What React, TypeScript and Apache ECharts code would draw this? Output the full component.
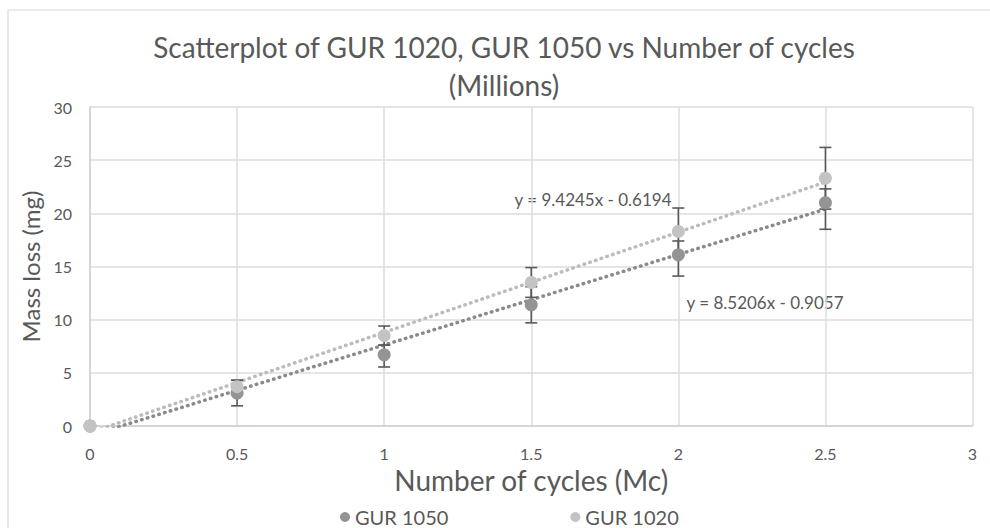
import React, { useEffect, useRef } from "react";
import * as echarts from "echarts";

const cycles = [0, 0.5, 1, 1.5, 2, 2.5];
const gur1050 = [0, 3.1, 6.7, 11.4, 16.1, 21.0];
const gur1020 = [0, 3.7, 8.5, 13.5, 18.3, 23.3];
const err1050Plus = [0, 1.2, 0.9, 1.7, 1.3, 1.3];
const err1050Minus = [0, 1.2, 1.15, 1.7, 2.0, 2.5];
const err1020Plus = [0, 0.6, 0.9, 1.4, 2.2, 2.9];
const err1020Minus = [0, 0.6, 0.9, 1.4, 2.2, 2.9];
const trend1050 = { slope: 8.5206, intercept: -0.9057 };
const trend1020 = { slope: 9.4245, intercept: -0.6194 };
const xTicks = [0, 0.5, 1, 1.5, 2, 2.5, 3];
const yTicks = [0, 5, 10, 15, 20, 25, 30];

const FONT = "Lato, 'Open Sans', sans-serif";
const TXT = "#595959";
const C1050 = "#949494";
const C1020 = "#c3c3c3";

function trendData(t: { slope: number; intercept: number }) {
  const x0 = cycles[0];
  const x1 = cycles[cycles.length - 1];
  return [
    [x0, t.slope * x0 + t.intercept],
    [x1, t.slope * x1 + t.intercept],
  ];
}

function errData(vals: number[], plus: number[], minus: number[]) {
  return cycles.map((c, i) => [c, vals[i] - minus[i], vals[i] + plus[i]]);
}

function renderErr(params: any, api: any) {
  const x = api.value(0);
  const lo = api.coord([x, api.value(1)]);
  const hi = api.coord([x, api.value(2)]);
  const w = 6;
  const style = { stroke: "#595959", lineWidth: 1.6 };
  return {
    type: "group",
    children: [
      { type: "line", shape: { x1: lo[0], y1: lo[1], x2: hi[0], y2: hi[1] }, style },
      { type: "line", shape: { x1: lo[0] - w, y1: lo[1], x2: lo[0] + w, y2: lo[1] }, style },
      { type: "line", shape: { x1: hi[0] - w, y1: hi[1], x2: hi[0] + w, y2: hi[1] }, style },
    ],
  };
}

export default function App() {
  const ref = useRef<HTMLDivElement>(null);
  useEffect(() => {
    if (!ref.current) return;
    const chart = echarts.init(ref.current, undefined, { renderer: "svg" });
    const fmt = (t: { slope: number; intercept: number }) =>
      `y = ${t.slope.toFixed(4)}x ${t.intercept < 0 ? "-" : "+"} ${Math.abs(t.intercept).toFixed(4)}`;
    chart.setOption({
      animation: false,
      backgroundColor: "#ffffff",
      textStyle: { fontFamily: FONT },
      graphic: [
        {
          type: "rect",
          shape: { x: 8, y: 10, width: 1000, height: 540 },
          style: { fill: "none", stroke: "#d9d9d9", lineWidth: 1.2 },
          z: -10,
        },
        {
          type: "text",
          x: 504,
          y: 47,
          style: {
            text: "Scatterplot of GUR 1020, GUR 1050 vs Number of cycles",
            font: `28px ${FONT}`,
            fill: TXT,
            textAlign: "center",
            textVerticalAlign: "middle",
          },
        },
        {
          type: "text",
          x: 504,
          y: 85,
          style: {
            text: "(Millions)",
            font: `28px ${FONT}`,
            fill: TXT,
            textAlign: "center",
            textVerticalAlign: "middle",
          },
        },
        {
          type: "text",
          x: 593,
          y: 199,
          style: {
            text: fmt(trend1020),
            font: `17px ${FONT}`,
            fill: TXT,
            textAlign: "center",
            textVerticalAlign: "middle",
          },
        },
        {
          type: "text",
          x: 765,
          y: 302,
          style: {
            text: fmt(trend1050),
            font: `17px ${FONT}`,
            fill: TXT,
            textAlign: "center",
            textVerticalAlign: "middle",
          },
        },
      ],
      grid: { left: 90, right: 17.5, top: 107, bottom: 102, containLabel: false },
      legend: {
        data: ["GUR 1050", "GUR 1020"],
        left: 335,
        top: 502,
        icon: "circle",
        itemWidth: 10,
        itemHeight: 10,
        itemGap: 122,
        textStyle: { color: TXT, fontSize: 20, fontFamily: FONT },
      },
      xAxis: {
        type: "value",
        min: xTicks[0],
        max: xTicks[xTicks.length - 1],
        interval: 0.5,
        name: "Number of cycles (Mc)",
        nameLocation: "middle",
        nameGap: 38,
        nameTextStyle: { color: TXT, fontSize: 28, fontFamily: FONT },
        axisLine: { show: true, lineStyle: { color: "#d0d0d0", width: 1.5 } },
        axisTick: { show: false },
        axisLabel: { color: TXT, fontSize: 16, margin: 19, fontFamily: FONT },
        splitLine: { show: true, lineStyle: { color: "#dcdcdc", width: 1.5 } },
      },
      yAxis: {
        type: "value",
        min: yTicks[0],
        max: yTicks[yTicks.length - 1],
        interval: 5,
        name: "Mass loss (mg)",
        nameLocation: "middle",
        nameGap: 45,
        nameTextStyle: { color: TXT, fontSize: 24, fontFamily: FONT },
        axisLine: { show: true, lineStyle: { color: "#d0d0d0", width: 1.5 } },
        axisTick: { show: false },
        axisLabel: { color: TXT, fontSize: 16, margin: 18, fontFamily: FONT },
        splitLine: { show: true, lineStyle: { color: "#dcdcdc", width: 1.5 } },
      },
      series: [
        {
          name: "trend1050",
          type: "line",
          data: trendData(trend1050),
          symbol: "none",
          clip: true,
          lineStyle: { color: "#8a8a8a", width: 3.5, type: [0.5, 5.5], cap: "round" },
          z: 2,
          silent: true,
        },
        {
          name: "trend1020",
          type: "line",
          data: trendData(trend1020),
          symbol: "none",
          clip: true,
          lineStyle: { color: "#bcbcbc", width: 3.5, type: [0.5, 5.5], cap: "round" },
          z: 2,
          silent: true,
        },
        {
          name: "err1050",
          type: "custom",
          data: errData(gur1050, err1050Plus, err1050Minus),
          renderItem: renderErr,
          z: 3,
          silent: true,
        },
        {
          name: "err1020",
          type: "custom",
          data: errData(gur1020, err1020Plus, err1020Minus),
          renderItem: renderErr,
          z: 3,
          silent: true,
        },
        {
          name: "GUR 1050",
          type: "scatter",
          data: cycles.map((c, i) => [c, gur1050[i]]),
          symbolSize: 13,
          itemStyle: { color: C1050, opacity: 1 },
          z: 4,
        },
        {
          name: "GUR 1020",
          type: "scatter",
          data: cycles.map((c, i) => [c, gur1020[i]]),
          symbolSize: 13,
          itemStyle: { color: C1020, opacity: 1 },
          z: 5,
        },
      ],
    });
    return () => chart.dispose();
  }, []);
  return (
    <div
      ref={ref}
      style={{ position: "fixed", left: 0, top: 0, width: 990, height: 528 }}
    />
  );
}
